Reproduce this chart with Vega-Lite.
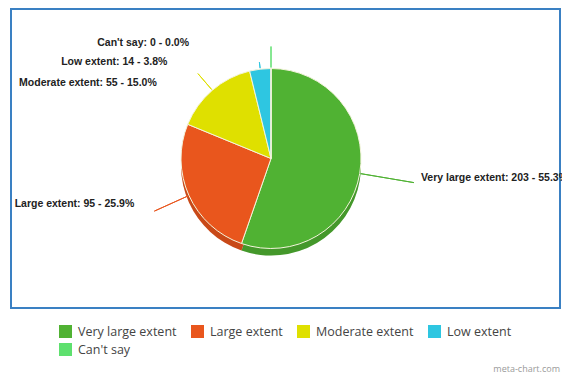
{
  "$schema": "https://vega.github.io/schema/vega-lite/v6.json",
  "width": 549,
  "height": 299,
  "autosize": {"type": "none"},
  "padding": {"left": 11, "top": 9, "right": 2, "bottom": 68},
  "background": "white",
  "view": {"stroke": "#3a80c3", "strokeWidth": 2, "fill": "white"},
  "title": {"text": "meta-chart.com", "orient": "bottom", "anchor": "end", "frame": "group", "fontSize": 9, "color": "#9a9a9a", "fontWeight": "normal", "font": "Open Sans", "offset": 18, "baseline": "bottom"},
  "data": {"values": [
    {"category": "Very large extent", "value": 203, "label": "Very large extent: 203 - 55.3%", "order": 1},
    {"category": "Large extent", "value": 95, "label": "Large extent: 95 - 25.9%", "order": 2},
    {"category": "Moderate extent", "value": 55, "label": "Moderate extent: 55 - 15.0%", "order": 3},
    {"category": "Low extent", "value": 14, "label": "Low extent: 14 - 3.8%", "order": 4},
    {"category": "Can't say", "value": 0, "label": "Can't say: 0 - 0.0%", "order": 5}
  ]},
  "encoding": {
    "theta": {"field": "value", "type": "quantitative", "stack": true},
    "order": {"field": "order", "type": "quantitative", "sort": "ascending"},
    "detail": {"field": "category", "type": "nominal"}
  },
  "resolve": {"scale": {"theta": "independent"}},
  "layer": [
    {
      "mark": {"type": "arc", "radius": 90, "xOffset": -14.5, "yOffset": 7},
      "encoding": {
        "color": {"field": "category", "type": "nominal", "scale": {"domain": ["Very large extent", "Large extent", "Moderate extent", "Low extent", "Can't say"], "range": ["#50b233", "#e9561d", "#dfe000", "#2ec6e1", "#5ee06e"]},
          "legend": {"orient": "none", "legendX": 48, "legendY": 316, "direction": "horizontal", "columns": 4, "title": null,
            "symbolType": "square", "symbolSize": 169, "symbolStrokeWidth": 0, "symbolOpacity": 1,
            "labelFont": "Open Sans", "labelFontSize": 12.5, "labelColor": "#444444", "labelOffset": 6,
            "columnPadding": 14, "rowPadding": 5, "padding": 0, "labelLimit": 200}}
      }
    },
    {
      "mark": {"type": "arc", "radius": 90, "xOffset": -14.5, "yOffset": 7, "color": "#000000", "opacity": 0.14},
      "encoding": {}
    },
    {
      "mark": {"type": "arc", "radius": 90, "xOffset": -14.5, "stroke": "#f4f4dc", "strokeWidth": 1},
      "encoding": {
        "color": {"field": "category", "type": "nominal"}
      }
    },
    {
      "mark": {"type": "arc", "radius": 145, "radius2": 91, "xOffset": -14.5, "padAngle": 3.14, "filled": false, "strokeWidth": 1},
      "encoding": {
        "theta": {"field": "value", "type": "quantitative", "stack": true, "scale": {"range": [0.869, 4.011]}},
        "color": {"field": "category", "type": "nominal"},
        "strokeOpacity": {"condition": {"test": "datum.category === 'Very large extent'", "value": 1}, "value": 0}
      }
    },
    {
      "mark": {"type": "arc", "radius": 128, "radius2": 91, "xOffset": -14.5, "padAngle": 3.14, "filled": false, "strokeWidth": 1},
      "encoding": {
        "color": {"field": "category", "type": "nominal"},
        "strokeOpacity": {"condition": {"test": "datum.category === 'Large extent'", "value": 1}, "value": 0}
      }
    },
    {
      "mark": {"type": "arc", "radius": 112, "radius2": 91, "xOffset": -14.5, "padAngle": 3.14, "filled": false, "strokeWidth": 1},
      "encoding": {
        "color": {"field": "category", "type": "nominal"},
        "strokeOpacity": {"condition": {"test": "datum.category === 'Moderate extent' || datum.category === \"Can't say\"", "value": 1}, "value": 0}
      }
    },
    {
      "mark": {"type": "arc", "radius": 97, "radius2": 91, "xOffset": -14.5, "padAngle": 3.14, "filled": false, "strokeWidth": 1},
      "encoding": {
        "color": {"field": "category", "type": "nominal"},
        "strokeOpacity": {"condition": {"test": "datum.category === 'Low extent'", "value": 1}, "value": 0}
      }
    },
    {
      "mark": {"type": "text", "radius": 152, "xOffset": -14.5, "dy": -6, "align": "left", "baseline": "middle", "font": "Liberation Sans", "fontWeight": "bold", "fontSize": 10.5, "color": "#222222"},
      "encoding": {"text": {"condition": {"test": "datum.category === 'Very large extent'", "field": "label"}, "value": ""}}
    },
    {
      "mark": {"type": "text", "radius": 150, "xOffset": -14.5, "dy": -16, "align": "right", "baseline": "middle", "font": "Liberation Sans", "fontWeight": "bold", "fontSize": 10.5, "color": "#222222"},
      "encoding": {"text": {"condition": {"test": "datum.category === 'Large extent'", "field": "label"}, "value": ""}}
    },
    {
      "mark": {"type": "text", "radius": 100, "xOffset": -14.5, "dx": -49, "align": "right", "baseline": "middle", "font": "Liberation Sans", "fontWeight": "bold", "fontSize": 10.5, "color": "#222222"},
      "encoding": {"text": {"condition": {"test": "datum.category === 'Moderate extent'", "field": "label"}, "value": ""}}
    },
    {
      "mark": {"type": "text", "radius": 97, "xOffset": -14.5, "dx": -92, "align": "right", "baseline": "middle", "font": "Liberation Sans", "fontWeight": "bold", "fontSize": 10.5, "color": "#222222"},
      "encoding": {"text": {"condition": {"test": "datum.category === 'Low extent'", "field": "label"}, "value": ""}}
    },
    {
      "mark": {"type": "text", "radius": 116, "xOffset": -14.5, "dx": -82, "align": "right", "baseline": "middle", "font": "Liberation Sans", "fontWeight": "bold", "fontSize": 10.5, "color": "#222222"},
      "encoding": {"text": {"condition": {"test": "datum.category === \"Can't say\"", "field": "label"}, "value": ""}}
    }
  ]
}
